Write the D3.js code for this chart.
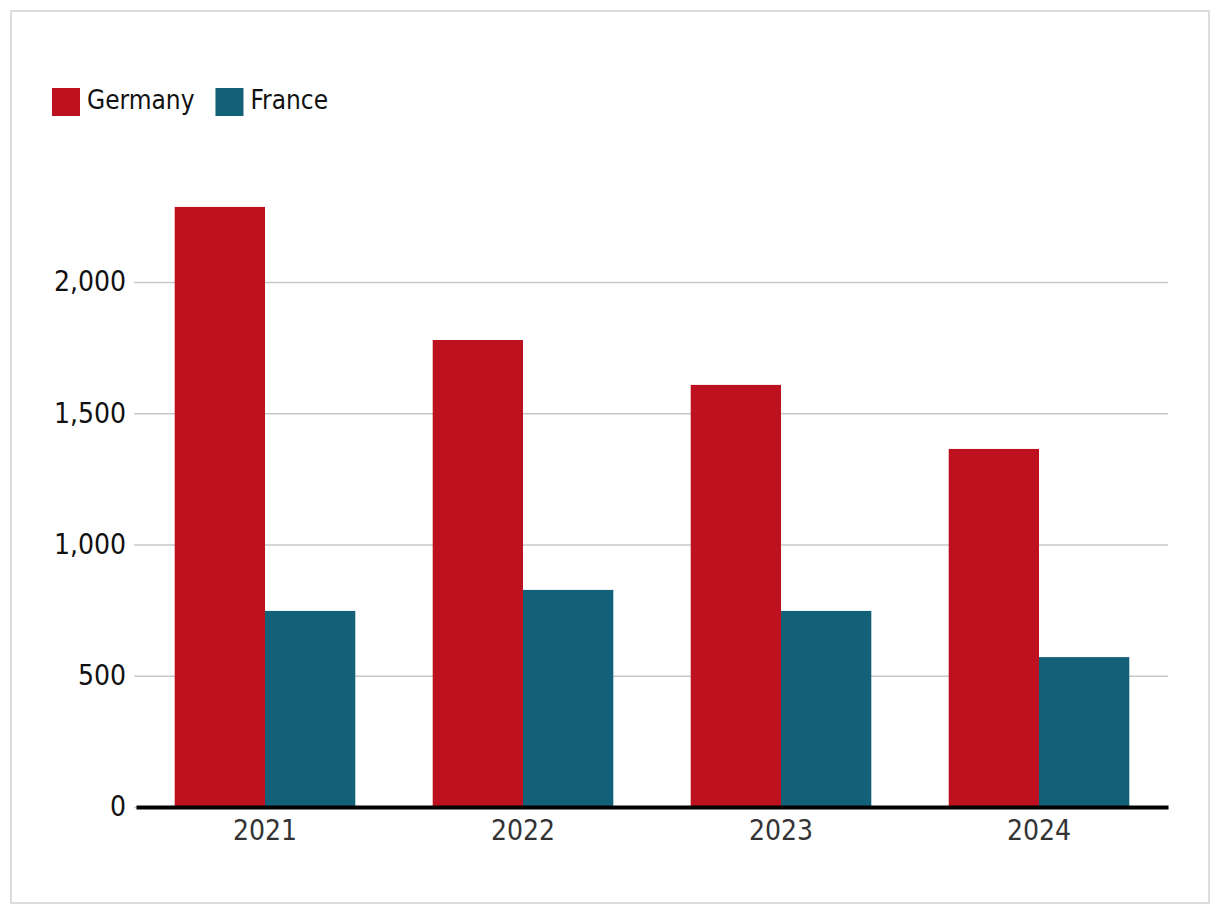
<!DOCTYPE html>
<html><head><meta charset="utf-8">
<script src="https://cdn.jsdelivr.net/npm/d3@7/dist/d3.min.js"></script>
<style>body{margin:0;background:#fff;font-family:"DejaVu Sans Condensed","DejaVu Sans",sans-serif;}</style>
</head><body><svg id="c" width="1220" height="914"></svg>
<script>
const categories = ["2021","2022","2023","2024"];
const seriesNames = ["Germany","France"];
const germany = [2286,1779,1608,1364];
const france = [747,827,747,571];
const yTicks = [0,500,1000,1500,2000];
const colors = ["#BE1120","#126178"];

const svg = d3.select("#c");
svg.append("rect").attr("x",11).attr("y",11).attr("width",1198).attr("height",892)
  .attr("fill","#fff").attr("stroke","#ddd").attr("stroke-width",2);

const m = {left:136, right:1168, top:120, bottom:807};
const x = d3.scaleBand().domain(categories).range([m.left,m.right]).paddingInner(0.3).paddingOuter(0.15);
const xs = d3.scaleBand().domain(seriesNames).range([0,x.bandwidth()]);
const y = d3.scaleLinear().domain([0,2000]).range([m.bottom,282]);

const gy = svg.append("g").attr("transform",`translate(${m.left},0)`)
  .call(d3.axisLeft(y).tickValues(yTicks).tickSize(-(m.right-m.left)).tickPadding(10).tickFormat(d3.format(",")));
gy.select(".domain").remove();
gy.selectAll(".tick line").attr("stroke","#c8c8c8").attr("stroke-width",1.5).attr("x1",-2);
gy.selectAll(".tick text").attr("font-size",28).attr("fill","#111").attr("font-family","DejaVu Sans Condensed");

const data = [germany, france];
categories.forEach((c,i)=>{
  seriesNames.forEach((s,j)=>{
    svg.append("rect").attr("x",x(c)+xs(s)).attr("width",xs.bandwidth())
      .attr("y",y(data[j][i])).attr("height",y(0)-y(data[j][i])).attr("fill",colors[j]);
  });
});

const gx = svg.append("g").attr("transform",`translate(0,${m.bottom})`)
  .call(d3.axisBottom(x).tickSize(0).tickPadding(13));
gx.select(".domain").attr("stroke","#000").attr("stroke-width",4);
gx.selectAll(".tick text").attr("font-size",28).attr("fill","#333").attr("font-family","DejaVu Sans Condensed");

const lg = svg.append("g");
let lx = 52;
seriesNames.forEach((s,j)=>{
  lg.append("rect").attr("x",lx).attr("y",88).attr("width",28).attr("height",28).attr("fill",colors[j]);
  const t = lg.append("text").attr("x",lx+35).attr("y",109).attr("font-size",26).attr("fill","#111").text(s);
  const w = t.node().getComputedTextLength();
  lx = lx + 35 + w + 21;
});
</script></body></html>
